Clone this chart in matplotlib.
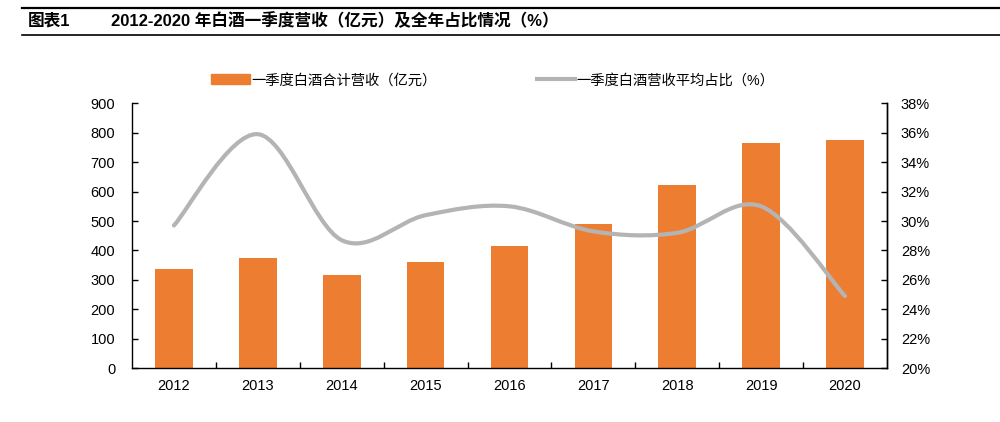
import matplotlib
matplotlib.use("Agg")
import matplotlib.pyplot as plt
from matplotlib.path import Path
from matplotlib.patches import PathPatch
from matplotlib.lines import Line2D
import numpy as np

plt.rcParams['font.family'] = ['Liberation Sans', 'Noto Sans CJK SC', 'DejaVu Sans']

years = ["2012", "2013", "2014", "2015", "2016", "2017", "2018", "2019", "2020"]
revenue_q1 = [337, 373, 318, 360, 415, 489, 624, 765, 774]        # 亿元
share_q1 = [29.7, 35.9, 28.7, 30.4, 31.0, 29.3, 29.2, 31.0, 24.9]  # %

bar_color = "#ED7D31"
line_color = "#B4B4B4"

fig = plt.figure(figsize=(10, 4.22), dpi=100)
ax = fig.add_axes([0.132, 0.1273, 0.755, 0.628])
ax2 = ax.twinx()

x = np.arange(len(years))
ax.bar(x, revenue_q1, width=0.45, color=bar_color, zorder=2)

# smooth line (Excel-style Catmull-Rom -> cubic Bezier)
pts = np.column_stack([x, share_q1]).astype(float)
verts = [pts[0]]
codes = [Path.MOVETO]
for i in range(len(pts) - 1):
    p0 = pts[i - 1] if i > 0 else pts[i]
    p1 = pts[i]
    p2 = pts[i + 1]
    p3 = pts[i + 2] if i + 2 < len(pts) else pts[i + 1]
    c1 = p1 + (p2 - p0) / 6.0
    c2 = p2 - (p3 - p1) / 6.0
    verts += [c1, c2, p2]
    codes += [Path.CURVE4] * 3
ax2.add_patch(PathPatch(Path(verts, codes), facecolor="none", edgecolor=line_color,
                        lw=3, capstyle="round", zorder=3))

ax.set_xlim(-0.5, len(years) - 0.5)
ax.set_ylim(0, 900)
ax.set_yticks(range(0, 901, 100))
ax2.set_ylim(20, 38)
ax2.set_yticks(range(20, 39, 2))
ax2.set_yticklabels([f"{v}%" for v in range(20, 39, 2)])

ax.set_xticks(x)
ax.set_xticklabels(years)
ax.set_xticks(np.arange(0.5, len(years) - 1, 1), minor=True)
ax.tick_params(axis="x", which="major", length=0, pad=8, labelsize=10.5)
ax.tick_params(axis="x", which="minor", direction="in", length=4, width=1)
ax.tick_params(axis="y", direction="in", length=4, width=1, pad=12, labelsize=10.5)
ax2.tick_params(axis="y", direction="in", length=4, width=1, pad=10, labelsize=10.5)

for a in (ax, ax2):
    a.spines["top"].set_visible(False)
    for s in ("left", "right", "bottom"):
        a.spines[s].set_linewidth(1)
ax2.spines["left"].set_visible(False)
ax2.spines["bottom"].set_visible(False)

# legend
handles = [
    plt.Rectangle((0, 0), 1, 1, color=bar_color),
    Line2D([0], [0], color=line_color, lw=3),
]
labels = ["一季度白酒合计营收（亿元）", "一季度白酒营收平均占比（%）"]
fig.legend(handles, labels, loc="center", bbox_to_anchor=(0.493, 0.81), ncol=2,
           frameon=False, fontsize=10.3, handlelength=2.7, handletextpad=0.1,
           columnspacing=7.0)

# title block
fig.add_artist(Line2D([0.022, 1.0], [1 - 8 / 422, 1 - 8 / 422], color="black", lw=1.6))
fig.add_artist(Line2D([0.022, 1.0], [1 - 35 / 422, 1 - 35 / 422], color="black", lw=1.2))
fig.text(0.028, 1 - 21 / 422, "图表1", fontsize=12, fontweight="bold", va="center")
fig.text(0.111, 1 - 21 / 422, "2012-2020 年白酒一季度营收（亿元）及全年占比情况（%）",
         fontsize=12, fontweight="bold", va="center")

fig.savefig("out.png", dpi=100)
